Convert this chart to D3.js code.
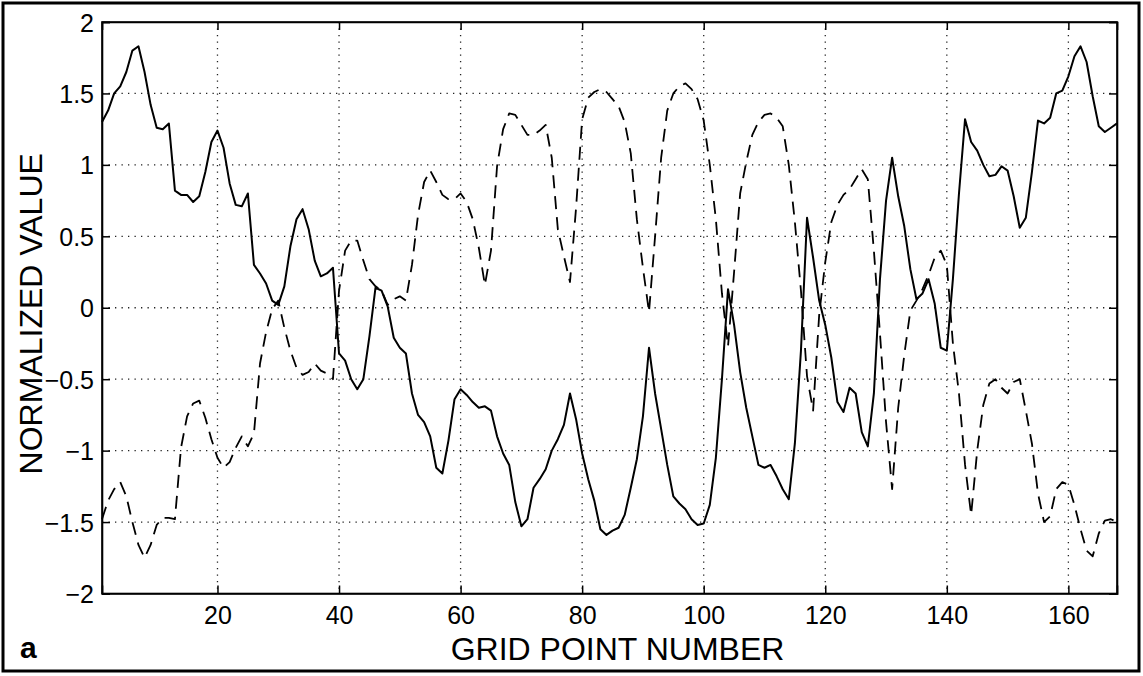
<!DOCTYPE html>
<html>
<head>
<meta charset="utf-8">
<script src="https://cdn.jsdelivr.net/npm/d3@7"></script>
<style>
  html, body { margin: 0; padding: 0; background: #fff; }
  svg { display: block; }
  text { font-family: "Liberation Sans", Arial, Helvetica, sans-serif; fill: #000; }
</style>
</head>
<body>
<svg id="chart" width="1143" height="676"></svg>
<script>
// ---- data ----
const gridPoints = d3.range(1, 169);   // grid point numbers 1..168
const solidSeries = [
  1.30, 1.38, 1.50, 1.55, 1.65, 1.80, 1.83, 1.65, 1.42, 1.26,
  1.25, 1.29, 0.82, 0.79, 0.79, 0.74, 0.78, 0.95, 1.16, 1.24,
  1.12, 0.87, 0.72, 0.71, 0.80, 0.30, 0.24, 0.17, 0.05, 0.02,
  0.15, 0.43, 0.62, 0.69, 0.55, 0.33, 0.22, 0.24, 0.28, -0.32,
  -0.37, -0.50, -0.57, -0.50, -0.20, 0.14, 0.12, 0.01, -0.21, -0.28,
  -0.32, -0.60, -0.75, -0.80, -0.90, -1.12, -1.16, -0.93, -0.64, -0.57,
  -0.61, -0.66, -0.70, -0.69, -0.72, -0.90, -1.02, -1.10, -1.36, -1.53,
  -1.48, -1.26, -1.20, -1.13, -1.00, -0.92, -0.82, -0.60, -0.78, -1.02,
  -1.20, -1.35, -1.55, -1.59, -1.56, -1.54, -1.45, -1.26, -1.06, -0.76,
  -0.28, -0.60, -0.85, -1.10, -1.32, -1.37, -1.41, -1.48, -1.52, -1.51,
  -1.38, -1.05, -0.50, 0.13, -0.12, -0.45, -0.70, -0.90, -1.10, -1.12,
  -1.10, -1.18, -1.27, -1.34, -0.95, -0.30, 0.63, 0.35, 0.05, -0.12,
  -0.35, -0.66, -0.73, -0.56, -0.60, -0.87, -0.97, -0.60, 0.20, 0.75,
  1.05, 0.78, 0.57, 0.27, 0.06, 0.10, 0.20, 0.03, -0.28, -0.30,
  0.20, 0.80, 1.32, 1.16, 1.10, 1.00, 0.92, 0.93, 0.99, 0.96,
  0.78, 0.56, 0.63, 0.95, 1.31, 1.29, 1.33, 1.50, 1.52, 1.62,
  1.76, 1.83, 1.72, 1.48, 1.27, 1.23, 1.26, 1.29
];
const dashedSeries = [
  -1.48, -1.35, -1.27, -1.22, -1.32, -1.50, -1.66, -1.75, -1.66, -1.52,
  -1.47, -1.47, -1.48, -0.98, -0.76, -0.67, -0.65, -0.77, -0.92, -1.05,
  -1.12, -1.08, -0.98, -0.90, -0.97, -0.88, -0.39, -0.17, -0.01, 0.05,
  -0.14, -0.30, -0.42, -0.47, -0.45, -0.39, -0.44, -0.46, -0.50, 0.12,
  0.40, 0.47, 0.47, 0.33, 0.20, 0.15, 0.12, 0.02, 0.06, 0.08,
  0.05, 0.30, 0.65, 0.88, 0.96, 0.88, 0.79, 0.76, 0.76, 0.80,
  0.74, 0.62, 0.42, 0.16, 0.40, 0.99, 1.25, 1.36, 1.35, 1.28,
  1.21, 1.21, 1.24, 1.28, 1.05, 0.55, 0.36, 0.18, 0.70, 1.32,
  1.47, 1.51, 1.53, 1.51, 1.46, 1.41, 1.30, 1.08, 0.62, 0.28,
  -0.03, 0.50, 1.05, 1.38, 1.50, 1.55, 1.57, 1.53, 1.46, 1.31,
  1.00, 0.62, 0.10, -0.27, 0.25, 0.80, 1.02, 1.21, 1.30, 1.35,
  1.36, 1.33, 1.27, 1.00, 0.60, 0.12, -0.48, -0.72, -0.05, 0.32,
  0.60, 0.72, 0.79, 0.83, 0.90, 0.97, 0.90, 0.40, -0.18, -0.80,
  -1.27, -0.70, -0.33, -0.02, 0.05, 0.13, 0.23, 0.35, 0.40, 0.30,
  -0.25, -0.60, -1.10, -1.45, -1.00, -0.68, -0.53, -0.50, -0.56, -0.60,
  -0.52, -0.50, -0.72, -0.95, -1.30, -1.50, -1.46, -1.27, -1.22, -1.24,
  -1.38, -1.55, -1.70, -1.74, -1.58, -1.49, -1.48, -1.50
];
const xTicks = [20, 40, 60, 80, 100, 120, 140, 160];
const yTicks = [-2, -1.5, -1, -0.5, 0, 0.5, 1, 1.5, 2];
const yTickLabels = ["\u22122", "\u22121.5", "\u22121", "\u22120.5", "0", "0.5", "1", "1.5", "2"];
const xTitle = "GRID POINT NUMBER";
const yTitle = "NORMALIZED VALUE";
const panelLabel = "a";

// ---- layout ----
const W = 1143, H = 676;
const L = 102, R = 1117, T = 22, B = 593.5;
const svg = d3.select("#chart");

svg.append("rect").attr("x", 0).attr("y", 0).attr("width", W).attr("height", H).attr("fill", "#fff");
// outer frame of the figure
svg.append("rect").attr("x", 3).attr("y", 3).attr("width", 1136).attr("height", 668)
  .attr("fill", "none").attr("stroke", "#000").attr("stroke-width", 3);

const x = d3.scaleLinear().domain([1, 168]).range([L, R]);
const y = d3.scaleLinear().domain([-2, 2]).range([B, T]);

// grid (dotted)
const grid = svg.append("g").attr("stroke", "#222").attr("stroke-width", 1.3)
  .attr("stroke-dasharray", "1.3,5.2").attr("fill", "none");
grid.selectAll("line.gx").data(xTicks).enter().append("line")
  .attr("x1", d => x(d)).attr("x2", d => x(d)).attr("y1", T).attr("y2", B);
grid.selectAll("line.gy").data(yTicks.filter(v => v > -2 && v < 2)).enter().append("line")
  .attr("x1", L).attr("x2", R).attr("y1", d => y(d)).attr("y2", d => y(d));

// axes (ticks inward, MATLAB style)
const tk = 8;
const axB = svg.append("g").attr("transform", `translate(0,${B})`)
  .call(d3.axisBottom(x).tickValues(xTicks).tickSize(-tk).tickPadding(13).tickFormat(d3.format("d")));
const axT = svg.append("g").attr("transform", `translate(0,${T})`)
  .call(d3.axisTop(x).tickValues(xTicks).tickSize(-tk).tickFormat(""));
const axL = svg.append("g").attr("transform", `translate(${L},0)`)
  .call(d3.axisLeft(y).tickValues(yTicks).tickSize(-tk).tickPadding(8)
    .tickFormat(d => yTickLabels[yTicks.indexOf(d)]));
const axR = svg.append("g").attr("transform", `translate(${R},0)`)
  .call(d3.axisRight(y).tickValues(yTicks).tickSize(-tk).tickFormat(""));
[axB, axT, axL, axR].forEach(a => {
  a.select(".domain").attr("stroke", "#000").attr("stroke-width", 1.6);
  a.selectAll(".tick line").attr("stroke", "#000").attr("stroke-width", 1.5);
  a.selectAll("text").style("font-family", '"Liberation Sans", Arial, sans-serif')
    .style("font-size", "25px").attr("fill", "#000");
});
axL.selectAll("text").attr("dy", "0.36em");
// box
svg.append("rect").attr("x", L).attr("y", T).attr("width", R - L).attr("height", B - T)
  .attr("fill", "none").attr("stroke", "#000").attr("stroke-width", 1.6);

// series
const line = d3.line().x((d, i) => x(gridPoints[i])).y(d => y(d));
svg.append("path").datum(dashedSeries).attr("d", line)
  .attr("fill", "none").attr("stroke", "#000").attr("stroke-width", 1.8)
  .attr("stroke-dasharray", "13,8").attr("stroke-linejoin", "round");
svg.append("path").datum(solidSeries).attr("d", line)
  .attr("fill", "none").attr("stroke", "#000").attr("stroke-width", 2)
  .attr("stroke-linejoin", "round");

// titles
svg.append("text").attr("x", (L + R) / 2 + 8).attr("y", 660)
  .attr("text-anchor", "middle").style("font-size", "32px").text(xTitle);
svg.append("text").attr("transform", `translate(42,${(T + B) / 2 + 6}) rotate(-90)`)
  .attr("text-anchor", "middle").style("font-size", "32px").text(yTitle);
svg.append("text").attr("x", 20).attr("y", 658)
  .style("font-size", "30px").style("font-weight", "bold").text(panelLabel);
</script>
</body>
</html>
